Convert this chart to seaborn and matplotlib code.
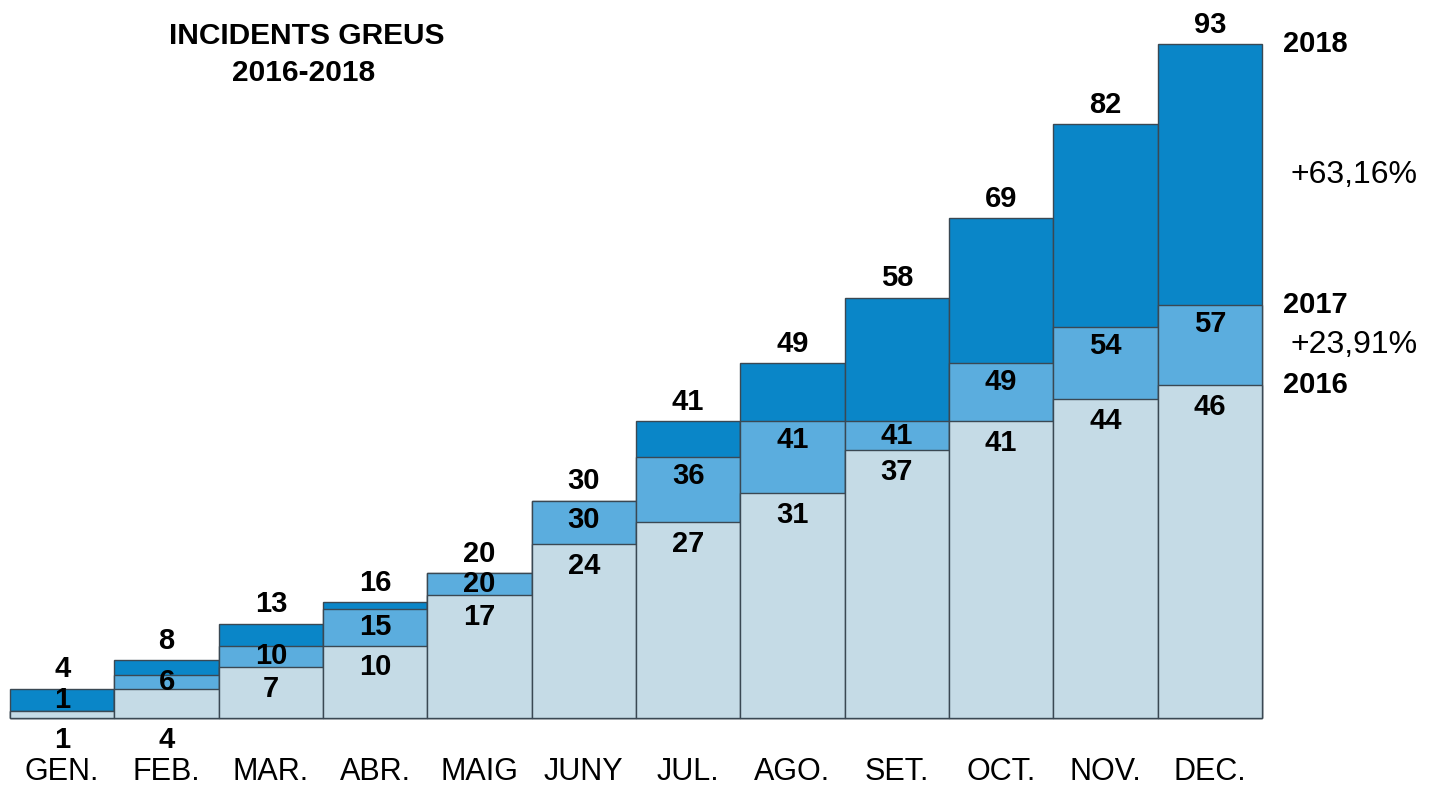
import numpy as np
import pandas as pd
import matplotlib
matplotlib.use("Agg")
import matplotlib.pyplot as plt
import seaborn as sns

# Cumulative serious incidents by month
months = ["GEN.", "FEB.", "MAR.", "ABR.", "MAIG", "JUNY", "JUL.", "AGO.", "SET.", "OCT.", "NOV.", "DEC."]
v2016 = [1, 4, 7, 10, 17, 24, 27, 31, 37, 41, 44, 46]
v2017 = [1, 6, 10, 15, 20, 30, 36, 41, 41, 49, 54, 57]
v2018 = [4, 8, 13, 16, 20, 30, 41, 49, 58, 69, 82, 93]
pct_labels = ["+63,16%", "+23,91%"]

c18 = "#0a86c8"
c17 = "#5badde"
c16 = "#c5dbe6"
edge = "#3a4853"

sns.set_style("white")
plt.rcParams['font.family'] = ['Liberation Sans', 'DejaVu Sans']
plt.rcParams['text.color'] = 'black'
plt.rcParams['xtick.color'] = 'black'

fig = plt.figure(figsize=(14.53, 7.87), dpi=100)
ax = fig.add_axes([10 / 1453, 69 / 787, 1252 / 1453, 688 / 787])

for vals, col in [(v2018, c18), (v2017, c17), (v2016, c16)]:
    sns.barplot(x=months, y=vals, color=col, saturation=1, width=1,
                edgecolor=edge, linewidth=1, ax=ax)
for p in ax.patches:
    p.set_clip_on(False)

ax.set_xlim(-0.5, 11.5)
ax.set_ylim(0, 95)
ax.set_yticks([])
ax.set_ylabel("")
for s in ax.spines.values():
    s.set_visible(False)
ax.tick_params(axis="x", length=0, pad=28, labelsize=22)

fs = 21
for i in range(len(months)):
    a, b, c = v2016[i], v2017[i], v2018[i]
    # 2018 label above bar
    ax.text(i, c + 2.7, str(c), ha="center", va="center", fontsize=fs, fontweight="bold")
    # 2017 label inside its band
    if b > a:
        y17 = b - min(2.6, (b - a) / 2)
    else:
        y17 = (a + c) / 2
    ax.text(i, y17, str(b), ha="center", va="center", fontsize=fs, fontweight="bold")
    # 2016 label
    if a < 5:
        y16 = -3.1
    else:
        y16 = a - 3
    ax.text(i, y16, str(a), ha="center", va="center", fontsize=fs, fontweight="bold", clip_on=False)

# year labels on the right
last = len(months) - 1
ax.text(last + 0.7, v2018[last], "2018", ha="left", va="center", fontsize=fs, fontweight="bold", clip_on=False)
ax.text(last + 0.7, v2017[last], "2017", ha="left", va="center", fontsize=fs, fontweight="bold", clip_on=False)
ax.text(last + 0.7, v2016[last], "2016", ha="left", va="center", fontsize=fs, fontweight="bold", clip_on=False)
ax.text(last + 0.77, (v2018[last] + v2017[last]) / 2, pct_labels[0], ha="left", va="center", fontsize=23, clip_on=False)
ax.text(last + 0.77, (v2017[last] + v2016[last]) / 2, pct_labels[1], ha="left", va="center", fontsize=23, clip_on=False)

fig.text(307 / 1453, 1 - 36 / 787, "INCIDENTS GREUS", ha="center", va="center", fontsize=21.5, fontweight="bold")
fig.text(304 / 1453, 1 - 73 / 787, "2016-2018", ha="center", va="center", fontsize=21.5, fontweight="bold")

fig.savefig("out.png", dpi=100)
